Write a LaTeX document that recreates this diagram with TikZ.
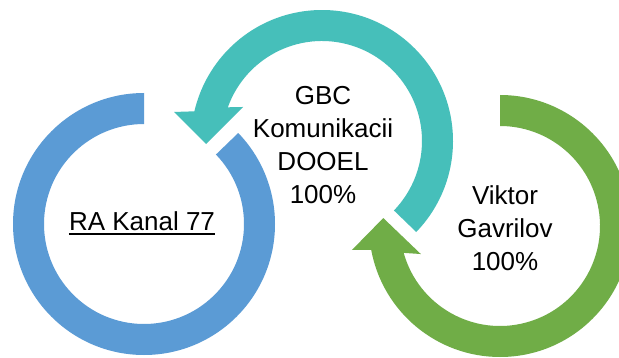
\documentclass[tikz,border=0pt]{standalone}
\usepackage{fontspec}
\setmainfont{Liberation Sans}
\definecolor{bluec}{HTML}{5B9BD5}
\definecolor{tealc}{HTML}{46BFBA}
\definecolor{greenc}{HTML}{70AD47}
\tikzset{
  lbl/.style={align=center, inner sep=0pt, text=black, font=\fontsize{26}{33}\selectfont},
}
\begin{document}
\begin{tikzpicture}[x=1pt,y=1pt]
\useasboundingbox[fill=white] (0,0) rectangle (619,357);
\coordinate (bc) at (144,133);
\coordinate (tc) at (322,216);
\coordinate (gc) at (500,131);
% blue ring
\fill[bluec] ([shift={(90:131pt)}]bc) arc[start angle=90, end angle=404, radius=131pt]
  -- ([shift={(44:100pt)}]bc) arc[start angle=44, end angle=-270, radius=100pt] -- cycle;
% teal arrow
\fill[tealc] ([shift={(-44:131pt)}]tc) arc[start angle=-44, end angle=166.9, radius=131pt]
  -- ([shift={(168.9:150.8pt)}]tc) -- ([shift={(181.5:116pt)}]tc)
  -- ([shift={(156.7:86pt)}]tc) -- ([shift={(160.3:100pt)}]tc)
  arc[start angle=160.3, end angle=-44, radius=100pt] -- cycle;
% green arrow
\fill[greenc] ([shift={(90:131pt)}]gc) arc[start angle=90, end angle=-169.5, radius=131pt]
  -- ([shift={(-170.8:150pt)}]gc) -- ([shift={(176.1:117pt)}]gc)
  -- ([shift={(-160.5:84pt)}]gc) -- ([shift={(-164.4:100pt)}]gc)
  arc[start angle=-164.4, end angle=90, radius=100pt] -- cycle;
% texts
\node[lbl, anchor=base] (rak) at (142,127) {RA Kanal 77};
\draw[line width=2pt] ([yshift=-4pt]rak.base west) -- ([yshift=-4pt]rak.base east);
\node[lbl] (gbc) at (323,212) {GBC\\Komunikacii\\DOOEL\\100\%};
\node[lbl] (vg) at (505,129) {Viktor\\Gavrilov\\100\%};
\end{tikzpicture}
\end{document}
